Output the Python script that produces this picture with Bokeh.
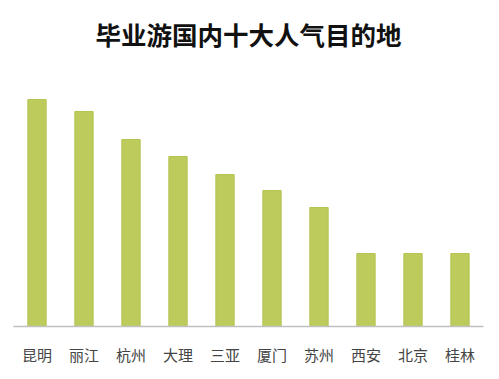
from bokeh.plotting import figure
from bokeh.models import Label, Range1d
from bokeh.embed import file_html
from bokeh.resources import INLINE

cities = ["昆明", "丽江", "杭州", "大理", "三亚", "厦门", "苏州", "西安", "北京", "桂林"]
values = [227, 215, 187, 170, 152, 136, 119, 73, 73, 73]
title_text = "毕业游国内十大人气目的地"

p = figure(x_range=cities, y_range=Range1d(0, 326), width=491, height=367,
           output_backend="svg", toolbar_location=None,
           min_border_left=13, min_border_right=8, min_border_top=0, min_border_bottom=0)
p.vbar(x=cities, top=values, width=0.39, color="#bdca5c", line_color="#b6c452")

p.yaxis.visible = False
p.xgrid.visible = False
p.ygrid.visible = False
p.outline_line_color = None
p.xaxis.axis_line_color = "#c0c0c0"
p.xaxis.axis_line_width = 1.5
p.xaxis.major_tick_line_color = None
p.xaxis.minor_tick_line_color = None
p.xaxis.major_tick_out = 0
p.xaxis.major_label_standoff = 17
p.xaxis.major_label_text_font = "Noto Sans CJK SC"
p.xaxis.major_label_text_font_size = "15px"
p.xaxis.major_label_text_color = "#444444"

p.add_layout(Label(x=5, y=293.5, text=title_text, text_align="center", text_baseline="middle",
                   text_font="Noto Sans CJK SC", text_font_style="bold",
                   text_font_size="25.5px", text_color="#111111"))

open("out.html", "w").write(file_html(p, INLINE))
